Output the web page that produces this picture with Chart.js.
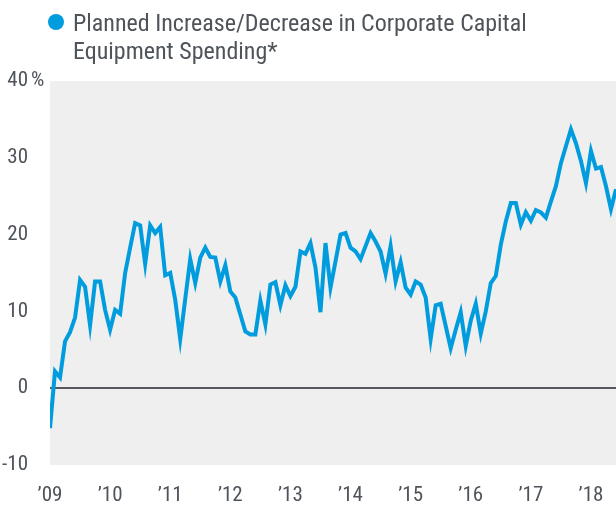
<!DOCTYPE html>
<html>
<head>
<meta charset="utf-8">
<script src="https://cdn.jsdelivr.net/npm/chart.js@4.4.0/dist/chart.umd.min.js"></script>
<style>
    html, body { margin: 0; padding: 0; background: #fff; overflow: hidden; }
    .wrap { position: relative; width: 616px; height: 514px; overflow: hidden; }
    #line-chart { display: block; width: 616px; height: 514px; }
    .legend {
        position: absolute; left: 40px; top: 9px;
        font-family: "Liberation Sans Narrow", "Roboto Condensed", "Arial Narrow", Roboto, sans-serif;
        font-size: 24px; line-height: 28px; color: #4f545a;
    }
    .legend .dot {
        position: absolute; left: 8px; top: 5px;
        width: 16px; height: 16px; border-radius: 50%; background: #009cde;
    }
    .legend .txt { margin-left: 33px; }
</style>
</head>
<body>
<div class="wrap">
    <canvas id="line-chart" width="616" height="514"></canvas>
    <div class="legend">
        <span class="dot"></span>
        <div class="txt">Planned Increase/Decrease in Corporate Capital<br>Equipment Spending*</div>
    </div>
</div>
<script>
    // monthly readings, Jan 2009 onward (percent)
    const spending = [
        -5.2, 2.2, 1.4, 6.1, 7.3, 9.2, 14.1, 13.2, 8.2, 13.9, 13.9, 10.2,
        7.6, 10.2, 9.7, 15.0, 18.3, 21.5, 21.2, 16.2, 21.2, 20.2, 21.0, 14.7,
        15.0, 11.5, 6.4, 11.6, 16.8, 13.7, 17.0, 18.3, 17.1, 17.0, 13.9, 16.0,
        12.6, 11.8, 9.6, 7.4, 7.0, 7.0, 11.4, 8.3, 13.5, 13.8, 10.8, 13.4,
        12.0, 13.2, 17.8, 17.5, 18.9, 15.7, 9.9, 18.9, 13.1, 16.5, 20.0, 20.2,
        18.3, 17.8, 16.8, 18.5, 20.2, 19.1, 17.8, 14.9, 18.5, 13.9, 16.4, 13.1,
        12.2, 13.9, 13.5, 11.8, 6.4, 10.8, 11.0, 8.1, 5.2, 7.6, 9.9, 5.5,
        8.8, 11.0, 7.1, 10.0, 13.7, 14.6, 18.7, 21.7, 24.1, 24.1, 21.3, 22.9,
        21.8, 23.2, 22.9, 22.2, 24.3, 26.3, 29.3, 31.5, 33.7, 31.9, 29.6, 26.7,
        30.9, 28.6, 28.8, 26.3, 23.3, 25.9
    ];
    const yearTicks = [0, 12, 24, 36, 48, 60, 72, 84, 96, 108];
    const yearLabels = ["’09", "’10", "’11", "’12", "’13", "’14", "’15", "’16", "’17", "’18"];
    const yTicks = [-10, 0, 10, 20, 30, 40];

    const fontFamily = '"Liberation Sans Narrow", "Roboto Condensed", "Arial Narrow", Roboto, sans-serif';
    const textColor = '#4f545a';

    const plotBackground = {
        id: 'plotBackground',
        beforeDraw(chart) {
            const {ctx, chartArea} = chart;
            ctx.save();
            ctx.fillStyle = '#efefef';
            ctx.fillRect(chartArea.left, chartArea.top, chartArea.right - chartArea.left, chartArea.bottom - chartArea.top);
            ctx.restore();
        }
    };

    // the "%" sign after the top tick
    const percentSign = {
        id: 'percentSign',
        afterDraw(chart) {
            const y = chart.scales.y;
            const ctx = chart.ctx;
            ctx.save();
            ctx.font = '21px ' + fontFamily;
            ctx.fillStyle = textColor;
            ctx.textBaseline = 'middle';
            ctx.textAlign = 'left';
            ctx.fillText('%', 31, y.getPixelForValue(40));
            ctx.restore();
        }
    };

    const data = {
        datasets: [{
            label: 'Planned Increase/Decrease in Corporate Capital Equipment Spending*',
            data: spending.map((v, i) => ({x: i, y: v})),
            borderColor: '#009cde',
            borderWidth: 4,
            pointRadius: 0,
            tension: 0,
            fill: false
        }]
    };

    const config = {
        type: 'line',
        data: data,
        options: {
            responsive: false,
            animation: false,
            layout: {padding: {top: 81, right: 0, left: 0, bottom: 0}},
            plugins: {legend: {display: false}, tooltip: {enabled: false}},
            scales: {
                x: {
                    type: 'linear',
                    min: 0,
                    max: 113,
                    afterBuildTicks: (scale) => { scale.ticks = yearTicks.map(v => ({value: v})); },
                    afterFit: (scale) => { scale.height = 49; scale.paddingRight = 0; },
                    grid: {display: false, drawTicks: false},
                    border: {display: false},
                    ticks: {
                        autoSkip: false,
                        maxRotation: 0,
                        padding: 18,
                        color: textColor,
                        font: {family: fontFamily, size: 21},
                        callback: (v) => yearLabels[yearTicks.indexOf(v)]
                    }
                },
                y: {
                    min: -10,
                    max: 40,
                    afterBuildTicks: (scale) => { scale.ticks = yTicks.map(v => ({value: v})); },
                    afterFit: (scale) => { scale.width = 50; },
                    grid: {
                        drawTicks: false,
                        color: (c) => c.tick && c.tick.value === 0 ? '#55595e' : 'rgba(0,0,0,0)',
                        lineWidth: 2
                    },
                    border: {display: false},
                    ticks: {
                        padding: 22,
                        color: textColor,
                        font: {family: fontFamily, size: 21},
                        callback: (v) => String(v)
                    }
                }
            }
        },
        plugins: [plotBackground, percentSign]
    };

    const ctx = document.getElementById('line-chart').getContext('2d');
    window.myLine = new Chart(ctx, config);
</script>
</body>
</html>
